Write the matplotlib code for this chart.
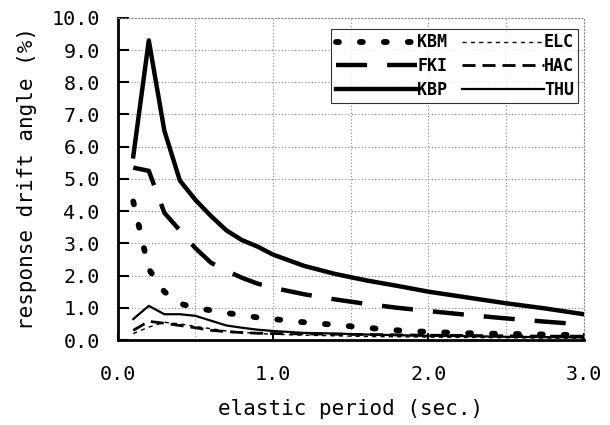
import matplotlib
matplotlib.use("Agg")
import matplotlib.pyplot as plt
from matplotlib.ticker import MultipleLocator, FormatStrFormatter

# elastic period (sec.)
period = [0.1, 0.2, 0.3, 0.4, 0.5, 0.6, 0.7, 0.8, 0.9, 1.0,
          1.2, 1.4, 1.6, 1.8, 2.0, 2.25, 2.5, 2.75, 3.0]

# response drift angle (%) per record
kbm = [4.3, 2.2, 1.5, 1.13, 1.0, 0.92, 0.84, 0.77, 0.7, 0.65,
       0.55, 0.47, 0.38, 0.3, 0.25, 0.21, 0.19, 0.17, 0.15]
fki = [5.35, 5.25, 3.95, 3.4, 2.85, 2.4, 2.15, 1.93, 1.75, 1.62,
       1.42, 1.26, 1.12, 1.0, 0.9, 0.78, 0.67, 0.57, 0.48]
kbp = [5.7, 9.3, 6.5, 4.95, 4.35, 3.85, 3.4, 3.1, 2.9, 2.65,
       2.3, 2.05, 1.85, 1.68, 1.5, 1.32, 1.14, 0.98, 0.8]
elc = [0.2, 0.4, 0.55, 0.5, 0.42, 0.35, 0.28, 0.24, 0.2, 0.18,
       0.15, 0.13, 0.11, 0.1, 0.09, 0.08, 0.07, 0.06, 0.06]
hac = [0.3, 0.58, 0.52, 0.45, 0.38, 0.3, 0.26, 0.23, 0.21, 0.2,
       0.19, 0.18, 0.17, 0.16, 0.15, 0.14, 0.13, 0.12, 0.12]
thu = [0.65, 1.06, 0.8, 0.8, 0.75, 0.6, 0.45, 0.38, 0.32, 0.28,
       0.22, 0.2, 0.17, 0.15, 0.13, 0.12, 0.1, 0.09, 0.08]

plt.rcParams['font.family'] = ['DejaVu Sans Mono']

fig = plt.figure(figsize=(6.1, 4.25), dpi=100)
ax = fig.add_axes([0.193, 0.2, 0.764, 0.758])

ax.plot(period, kbm, color='black', lw=4.2, linestyle=(0, (0.5, 3.6)),
        dash_capstyle='round', label='KBM')
ax.plot(period, fki, color='black', lw=3.2, linestyle=(0, (7, 4.5)), label='FKI')
ax.plot(period, kbp, color='black', lw=3.2, label='KBP')
ax.plot(period, elc, color='black', lw=1.0, linestyle=(0, (3, 3)), label='ELC')
ax.plot(period, hac, color='black', lw=2.0, linestyle=(0, (4.7, 2.5)), label='HAC')
ax.plot(period, thu, color='black', lw=1.6, label='THU')

ax.set_xlim(0, 3.0)
ax.set_ylim(0, 10.0)
ax.xaxis.set_major_locator(MultipleLocator(1.0))
ax.xaxis.set_minor_locator(MultipleLocator(0.5))
ax.yaxis.set_major_locator(MultipleLocator(1.0))
ax.xaxis.set_major_formatter(FormatStrFormatter('%.1f'))
ax.yaxis.set_major_formatter(FormatStrFormatter('%.1f'))
ax.grid(True, which='both', color='#888888', linestyle=(0, (1, 2)), lw=0.8)

ax.tick_params(axis='y', direction='in', length=8, width=1.5, labelsize=14.5, pad=13)
ax.tick_params(axis='x', direction='in', length=5, width=1.5, labelsize=14.5, pad=18)
ax.tick_params(axis='x', which='minor', length=0)

for side in ['left', 'bottom']:
    ax.spines[side].set_linewidth(2)
for side in ['top', 'right']:
    ax.spines[side].set_color('#888888')
    ax.spines[side].set_linestyle((0, (1, 2)))
    ax.spines[side].set_linewidth(0.8)

ax.set_xlabel('elastic period (sec.)', fontsize=15, labelpad=11)
ax.set_ylabel('response drift angle (%)', fontsize=15, labelpad=10)

leg = ax.legend(ncol=2, loc='upper right', bbox_to_anchor=(0.995, 0.975),
                frameon=True, fancybox=False, edgecolor='black',
                prop={'weight': 'bold', 'size': 12}, handlelength=4.9,
                handletextpad=0.0, columnspacing=0.9, labelspacing=0.35,
                borderpad=0.25, borderaxespad=0.2)
leg.get_frame().set_linewidth(0.8)

fig.savefig('out.png', dpi=100)
